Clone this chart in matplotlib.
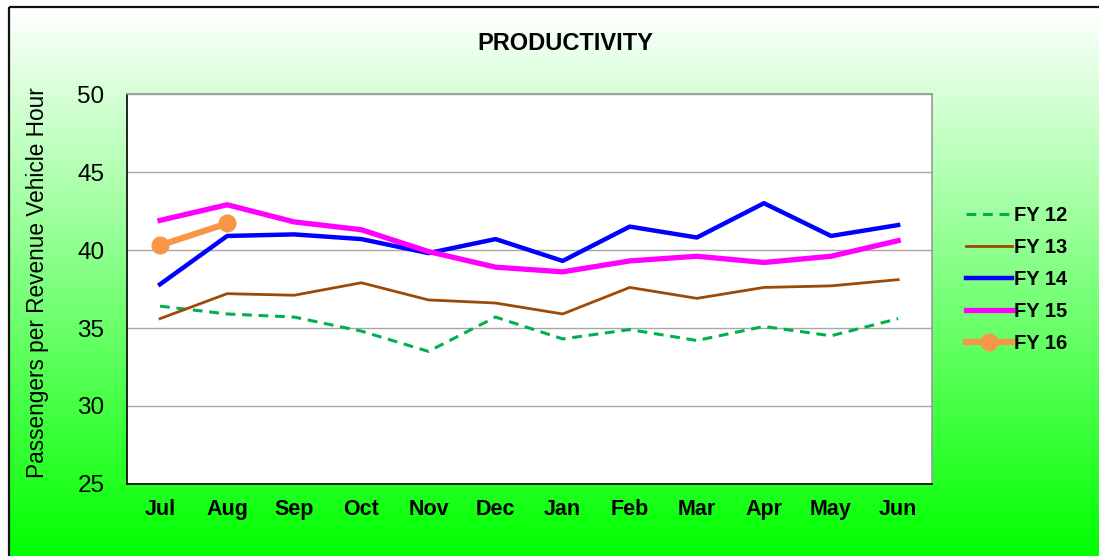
import numpy as np
import matplotlib
matplotlib.use("Agg")
import matplotlib.pyplot as plt
from matplotlib.patches import Rectangle
from matplotlib.colors import LinearSegmentedColormap

months = ["Jul", "Aug", "Sep", "Oct", "Nov", "Dec", "Jan", "Feb", "Mar", "Apr", "May", "Jun"]
fy12 = [36.4, 35.9, 35.7, 34.8, 33.5, 35.7, 34.3, 34.9, 34.2, 35.1, 34.5, 35.6]
fy13 = [35.6, 37.2, 37.1, 37.9, 36.8, 36.6, 35.9, 37.6, 36.9, 37.6, 37.7, 38.1]
fy14 = [37.8, 40.9, 41.0, 40.7, 39.8, 40.7, 39.3, 41.5, 40.8, 43.0, 40.9, 41.6]
fy15 = [41.9, 42.9, 41.8, 41.3, 39.9, 38.9, 38.6, 39.3, 39.6, 39.2, 39.6, 40.6]
fy16 = [40.3, 41.7]
title = "PRODUCTIVITY"
ylabel = "Passengers per Revenue Vehicle Hour"
yticks = [25, 30, 35, 40, 45, 50]

plt.rcParams['font.family'] = ['Liberation Sans', 'DejaVu Sans']

W, H = 1099, 556
fig = plt.figure(figsize=(W / 100, H / 100), dpi=100)

# gradient background
bg = fig.add_axes([0, 0, 1, 1], zorder=-10)
bg.set_xlim(0, W)
bg.set_ylim(H, 0)
bg.axis("off")
cmap = LinearSegmentedColormap.from_list("g", ["#ffffff", "#00ff00"])
grad = np.linspace(0, 1, 256).reshape(-1, 1)
bg.imshow(grad, cmap=cmap, extent=[8.5, W + 5, H, 7], aspect="auto", zorder=0)
bg.add_patch(Rectangle((8.5, 7), W, H, fill=False, edgecolor="#111111", lw=1.6, zorder=2))

ax = fig.add_axes([126.5 / W, (H - 484) / H, (931.7 - 126.5) / W, (484 - 94) / H])
ax.set_facecolor("white")
x = np.arange(len(months))

ax.plot(x, fy12, color="#00B050", lw=2.2, dashes=(3.2, 2.2), label="FY 12", zorder=3)
ax.plot(x, fy13, color="#9C4A06", lw=2.0, label="FY 13", zorder=3)
ax.plot(x, fy14, color="#0000FF", lw=3.2, label="FY 14", zorder=4)
ax.plot(x, fy15, color="#FF00FF", lw=3.8, label="FY 15", zorder=4)
ax.plot(np.arange(len(fy16)), fy16, color="#F79646", lw=4.5, marker="o", ms=12,
        label="FY 16", zorder=5)

ax.set_xlim(-0.5, len(months) - 0.5)
ax.set_ylim(25, 50)
ax.set_yticks(yticks)
ax.set_xticks(x)
ax.set_xticklabels(months, fontsize=15.5, fontweight="bold")
ax.tick_params(axis="y", labelsize=17.5, length=0, pad=16)
ax.tick_params(axis="x", length=0, pad=11)
ax.grid(axis="y", color="#A6A6A6", lw=1)
ax.set_axisbelow(True)
for s in ["top", "right"]:
    ax.spines[s].set_color("#999999")
    ax.spines[s].set_linewidth(1.2)
for s in ["left", "bottom"]:
    ax.spines[s].set_color("black")
    ax.spines[s].set_linewidth(1.2)

fig.text(565 / W, 1 - 43 / H, title, ha="center", va="center", fontsize=17, fontweight="bold")
fig.text(38 / W, 1 - 283 / H, ylabel, ha="center", va="center", rotation=90, fontsize=16.3)

leg = ax.legend(loc="upper left", bbox_to_anchor=(958 / W, 1 - 198 / H),
                bbox_transform=fig.transFigure, frameon=False,
                prop={"size": 14.5, "weight": "bold"}, handlelength=2.3,
                handletextpad=0.1, labelspacing=0.645, borderaxespad=0)

fig.savefig("out.png", dpi=100)
